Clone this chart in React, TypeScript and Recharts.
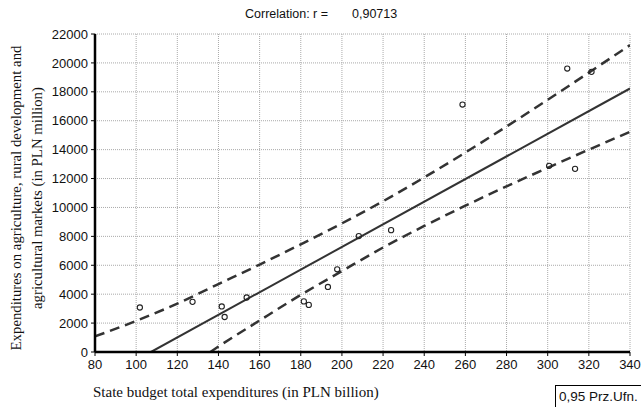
import {
  ComposedChart,
  Line,
  Scatter,
  XAxis,
  YAxis,
  CartesianGrid,
} from 'recharts';

// observed points (budget total, agri expenditures)
const pointX = [101.8, 127.4, 141.6, 143, 153.7, 181.5, 183.9, 193.2, 197.7, 208.2, 223.9, 258.6, 300.7, 309.5, 313.3, 321.3];
const pointY = [3080, 3470, 3150, 2420, 3770, 3500, 3260, 4500, 5720, 8020, 8430, 17120, 12880, 19610, 12670, 19380];

// fitted line, read at its two ends
const fitX = [107.2, 340];
const fitY = [0, 18230];

// 0,95 confidence band, read at the grid columns
const upperX = [80, 100, 120, 140, 160, 180, 200, 220, 240, 260, 280, 300, 320, 340];
const upperY = [1080, 2150, 3350, 4700, 6050, 7450, 8900, 10430, 12080, 13800, 15600, 17450, 19330, 21230];
const lowerX = [136, 140, 160, 180, 200, 220, 240, 260, 280, 300, 320, 340];
const lowerY = [0, 380, 2180, 3950, 5600, 7230, 8720, 10120, 11460, 12740, 14000, 15230];

const xTicks = [80, 100, 120, 140, 160, 180, 200, 220, 240, 260, 280, 300, 320, 340];
const yTicks = [0, 2000, 4000, 6000, 8000, 10000, 12000, 14000, 16000, 18000, 20000, 22000];

const zip = (xs: number[], ys: number[]) => xs.map((x, i) => ({ x, y: ys[i] }));

const points = zip(pointX, pointY);
const fit = zip(fitX, fitY);
const upper = zip(upperX, upperY);
const lower = zip(lowerX, lowerY);

const SANS = "'Liberation Sans', Arial, sans-serif";
const SERIF = "'Liberation Serif', 'Times New Roman', serif";
const tickStyle = { fontSize: 13, fill: '#111', fontFamily: SANS };
const frame = { stroke: '#000', strokeWidth: 2.5 };

const Dot = (props: { cx?: number; cy?: number }) => (
  <circle cx={props.cx} cy={props.cy} r={2.6} fill="none" stroke="#222" strokeWidth={1.1} />
);

const Empty = () => <g />;

export default function App() {
  return (
    <div style={{ position: 'absolute', left: 0, top: 0, width: 641, height: 407, overflow: 'hidden', background: '#fff' }}>
      <div style={{ position: 'absolute', left: 245, top: 7, fontFamily: SANS, fontSize: 12.5, whiteSpace: 'pre', color: '#111' }}>
        Correlation: r =
      </div>
      <div style={{ position: 'absolute', left: 352, top: 7, fontFamily: SANS, fontSize: 12.5, color: '#111' }}>0,90713</div>

      <ComposedChart width={641} height={407} margin={{ top: 34, right: 11, bottom: 25, left: 0 }}>
        <CartesianGrid stroke="#aaa" strokeDasharray="1 1" />
        <XAxis
          type="number"
          dataKey="x"
          domain={[80, 340]}
          ticks={xTicks}
          allowDataOverflow
          height={30}
          tick={tickStyle}
          tickSize={4}
          tickMargin={4}
          axisLine={frame}
          tickLine={{ stroke: '#000' }}
        />
        <YAxis
          type="number"
          domain={[0, 22000]}
          ticks={yTicks}
          allowDataOverflow
          width={95}
          tick={tickStyle}
          tickSize={4}
          tickMargin={3}
          axisLine={frame}
          tickLine={{ stroke: '#000' }}
        />
        <XAxis
          xAxisId="top"
          orientation="top"
          type="number"
          domain={[80, 340]}
          ticks={xTicks}
          height={0}
          mirror
          tick={<Empty />}
          tickSize={4}
          axisLine={frame}
          tickLine={{ stroke: '#000', strokeWidth: 1.5 }}
        />
        <YAxis
          yAxisId="right"
          orientation="right"
          type="number"
          domain={[0, 22000]}
          ticks={yTicks}
          width={0}
          mirror
          tick={<Empty />}
          tickSize={4}
          axisLine={frame}
          tickLine={{ stroke: '#000', strokeWidth: 1.5 }}
        />
        <Line data={upper} dataKey="y" type="monotone" stroke="#333" strokeWidth={2.5} strokeDasharray="10 6" dot={false} isAnimationActive={false} />
        <Line data={lower} dataKey="y" type="monotone" stroke="#333" strokeWidth={2.5} strokeDasharray="10 6" dot={false} isAnimationActive={false} />
        <Line data={fit} dataKey="y" type="linear" stroke="#333" strokeWidth={2} dot={false} isAnimationActive={false} />
        <Scatter data={points} dataKey="y" shape={<Dot />} isAnimationActive={false} />
      </ComposedChart>

      <div
        style={{
          position: 'absolute',
          left: 27 - 170,
          top: 198 - 21,
          width: 340,
          height: 42,
          lineHeight: '21px',
          transform: 'rotate(-90deg)',
          textAlign: 'center',
          fontFamily: SERIF,
          fontSize: 14.8,
          whiteSpace: 'nowrap',
          color: '#111',
        }}
      >
        Expenditures on agriculture, rural development and
        <br />
        agricultural markets (in PLN million)
      </div>

      <div style={{ position: 'absolute', left: 93, top: 384, fontFamily: SERIF, fontSize: 15, whiteSpace: 'nowrap', color: '#111' }}>
        State budget total expenditures (in PLN billion)
      </div>

      <div
        style={{
          position: 'absolute',
          left: 555,
          top: 385,
          width: 100,
          height: 30,
          border: '1.5px solid #000',
          boxSizing: 'border-box',
          fontFamily: SANS,
          fontSize: 13.5,
          padding: '3px 0 0 3px',
          whiteSpace: 'nowrap',
          color: '#111',
        }}
      >
        0,95 Prz.Ufn.
      </div>
    </div>
  );
}
